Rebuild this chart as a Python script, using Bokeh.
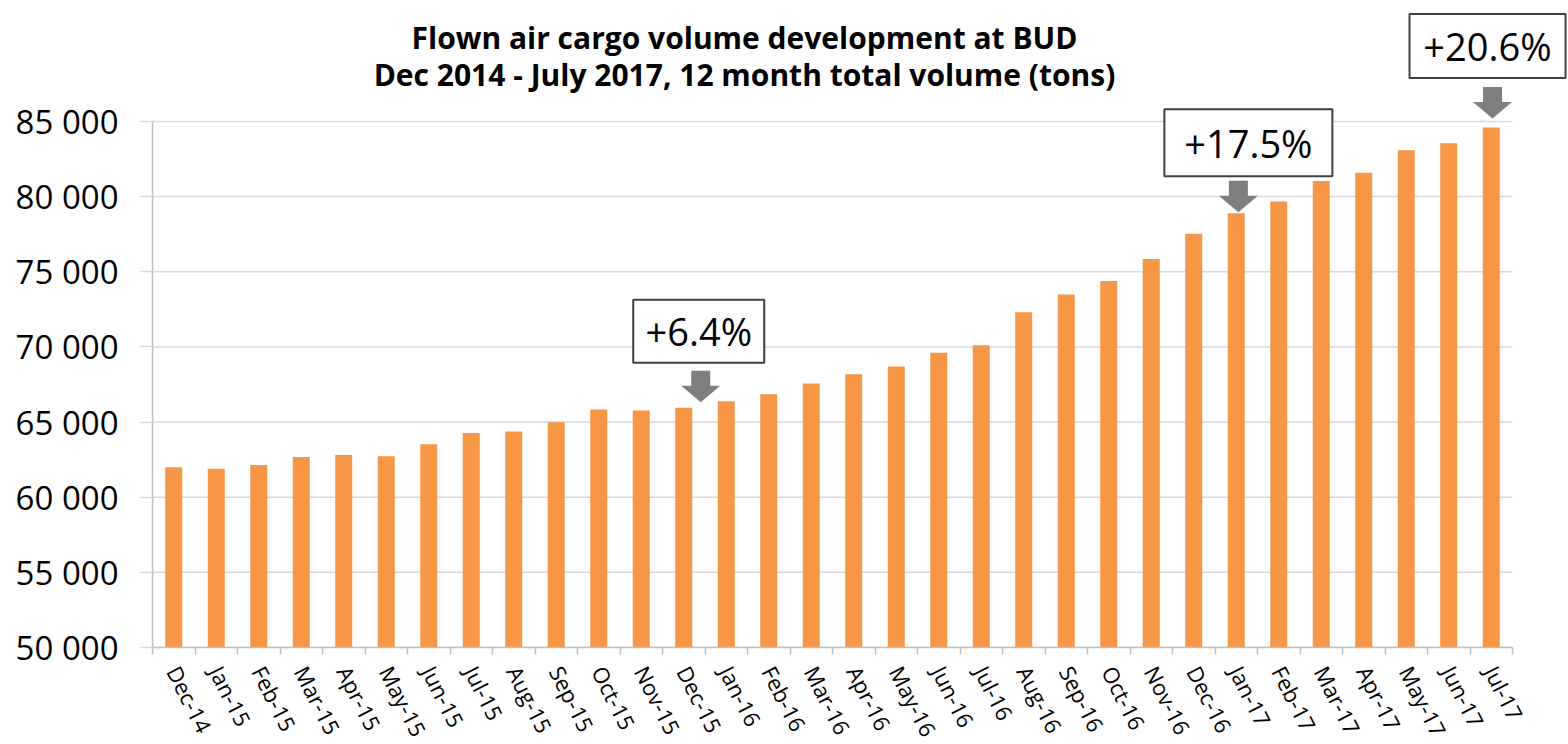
import math
from bokeh.plotting import figure
from bokeh.models import Range1d, FixedTicker, Label, ColumnDataSource
from bokeh.core.properties import value
from bokeh.embed import file_html
from bokeh.resources import INLINE

# ---------------- data ----------------
months = ["Dec-14", "Jan-15", "Feb-15", "Mar-15", "Apr-15", "May-15", "Jun-15", "Jul-15",
          "Aug-15", "Sep-15", "Oct-15", "Nov-15", "Dec-15", "Jan-16", "Feb-16", "Mar-16",
          "Apr-16", "May-16", "Jun-16", "Jul-16", "Aug-16", "Sep-16", "Oct-16", "Nov-16",
          "Dec-16", "Jan-17", "Feb-17", "Mar-17", "Apr-17", "May-17", "Jun-17", "Jul-17"]
volumes = [62000, 61900, 62150, 62680, 62800, 62730, 63530, 64270,
           64370, 64990, 65840, 65770, 65950, 66390, 66850, 67560,
           68180, 68700, 69610, 70110, 72310, 73490, 74380, 75850,
           77520, 78900, 79680, 81030, 81590, 83090, 83550, 84590]
y_ticks = [50000, 55000, 60000, 65000, 70000, 75000, 80000, 85000]
title_lines = ["Flown air cargo volume development at BUD",
               "Dec 2014 - July 2017, 12 month total volume (tons)"]
anno_text = ["+6.4%", "+17.5%", "+20.6%"]
anno_month = ["Dec-15", "Jan-17", "Jul-17"]

# ---------------- layout / styling ----------------
PX_PER_CAT = 42.5          # pixels per category
PX_PER_TON = 15.03 / 1000  # pixels per ton
BORDER_L, BORDER_B = 152, 97
FRAME_W, FRAME_H = 1568 - BORDER_L, 647
MARGIN = 0
Y0 = y_ticks[0]
X0 = -0.5
PAGE_LEFT, PAGE_BASE = MARGIN + BORDER_L, MARGIN + FRAME_H   # page px of x=-0.5 and y=50000


def px_to_x(px):
    return X0 + (px - PAGE_LEFT) / PX_PER_CAT


def py_to_y(py):
    return Y0 + (PAGE_BASE - py) / PX_PER_TON


x_end = X0 + FRAME_W / PX_PER_CAT
y_end = Y0 + FRAME_H / PX_PER_TON

n = len(months)
idx = list(range(n))

p = figure(frame_width=FRAME_W, frame_height=FRAME_H,
           x_range=Range1d(X0, x_end), y_range=Range1d(Y0, y_end),
           output_backend="svg", toolbar_location=None,
           min_border_left=BORDER_L, min_border_right=0,
           min_border_top=0, min_border_bottom=BORDER_B)
p.outline_line_color = None
p.xgrid.visible = False
p.ygrid.visible = False
p.background_fill_color = "white"
p.border_fill_color = "white"

# gridlines limited to the category extent
p.segment(x0=[X0] * len(y_ticks), x1=[n - 0.5] * len(y_ticks), y0=y_ticks, y1=y_ticks,
          line_color="#d9d9d9", line_width=1.5)

src = ColumnDataSource(dict(x=idx, top=volumes, month=months))
p.vbar(x="x", top="top", bottom=Y0, width=0.4, source=src,
       fill_color="#F79646", line_color=None)

# y axis
ya = p.yaxis[0]
ya.ticker = FixedTicker(ticks=y_ticks)
ya.bounds = (y_ticks[0], y_ticks[-1])
ya.major_label_overrides = {t: f"{t:,}".replace(",", " ") for t in y_ticks}
ya.major_label_text_font = "Open Sans"
ya.major_label_text_font_size = "33px"
ya.major_label_text_color = "black"
ya.axis_line_color = "#bfbfbf"
ya.axis_line_width = 1.5
ya.major_tick_line_color = "#d9d9d9"
ya.major_tick_line_width = 1.5
ya.major_tick_out = 12
ya.major_tick_in = 0
ya.minor_tick_line_color = None
ya.major_label_standoff = 22

# x axis
xa = p.xaxis[0]
xa.ticker = FixedTicker(ticks=idx, minor_ticks=[i - 0.5 for i in range(n + 1)])
xa.bounds = (X0, n - 0.5)
xa.major_label_overrides = {i: m for i, m in zip(idx, months)}
xa.major_label_orientation = -math.radians(63)
xa.major_label_text_font = "Open Sans"
xa.major_label_text_font_size = "22px"
xa.major_label_text_color = "black"
xa.axis_line_color = "#bfbfbf"
xa.axis_line_width = 1.5
xa.major_tick_line_color = None
xa.major_tick_out = 0
xa.major_tick_in = 0
xa.minor_tick_line_color = "#bfbfbf"
xa.minor_tick_line_width = 1.5
xa.minor_tick_out = 7
xa.minor_tick_in = 0
xa.major_label_standoff = 13

# ---------------- annotations ----------------
arrow_dx_cat = [0.4, 0.05, 0.03]      # arrow offset from bar centre (categories)
arrow_gap_px = [5.5, 1.0, 9.0]        # gap between arrow tip and bar top (px)
box_dx_px = [-2, 10, -5]              # box centre offset from arrow tip (px)
box_dy_px = [71, 69.5, 72.5]          # box centre height above arrow tip (px)
box_w = [131, 168, 156]
box_h = [63, 67, 64]

# arrow outline in pixel offsets from tip (x right, y up)
arrow_shape = [(0, 0), (19.5, 16.5), (9.5, 16.5), (9.5, 31.5),
               (-9.5, 31.5), (-9.5, 16.5), (-19.5, 16.5)]

xs, ys, bx, by, = [], [], [], []
for m, adx, gap, bdx, bdy in zip(anno_month, arrow_dx_cat, arrow_gap_px, box_dx_px, box_dy_px):
    i = months.index(m)
    tip_x = i + adx
    tip_y = volumes[i] + gap / PX_PER_TON
    xs.append([tip_x + ox / PX_PER_CAT for ox, oy in arrow_shape])
    ys.append([tip_y + oy / PX_PER_TON for ox, oy in arrow_shape])
    bx.append(tip_x + bdx / PX_PER_CAT)
    by.append(tip_y + bdy / PX_PER_TON)

p.patches(xs=xs, ys=ys, fill_color="#7f7f7f", line_color=None)
p.rect(x=bx, y=by, width=box_w, height=box_h, width_units="screen", height_units="screen",
       fill_color="white", line_color="#404040", line_width=2)
p.text(x=bx, y=by, text=anno_text, text_font=value("Open Sans"), text_font_size="38px",
       text_align="center", text_baseline="middle", text_color="black")

# title (two centred lines)
title_cx = 744
title_baselines = [36.5, 73.5]
for line, base in zip(title_lines, title_baselines):
    p.add_layout(Label(x=px_to_x(title_cx), y=py_to_y(base), text=line,
                       text_font="Open Sans", text_font_style="bold",
                       text_font_size="30px", text_align="center",
                       text_baseline="alphabetic", text_color="black"))

open("out.html", "w").write(file_html(p, INLINE))
